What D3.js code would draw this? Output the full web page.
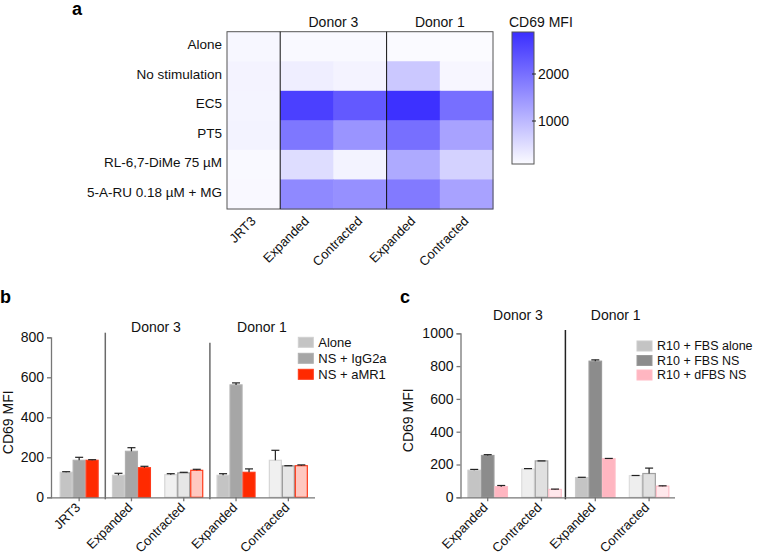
<!DOCTYPE html>
<html><head><meta charset="utf-8">
<script src="https://cdn.jsdelivr.net/npm/d3@7/dist/d3.min.js"></script>
<style>
body{margin:0;background:#fff;}
svg{font-family:Arial,"Liberation Sans",Helvetica,sans-serif;}
</style></head>
<body>
<svg id="fig" width="762" height="559"></svg>
<script>
// ---------- DATA ----------
const heatRows = ["Alone","No stimulation","EC5","PT5","RL-6,7-DiMe 75 \u00b5M","5-A-RU 0.18 \u00b5M + MG"];
const heatCols = ["JRT3","Expanded","Contracted","Expanded","Contracted"];
const heatDonors = ["Donor 3","Donor 1"];
const heatValues = [
  [140, 110, 110, 100, 90],
  [190, 260, 190, 780, 150],
  [180, 2650, 2300, 2850, 2000],
  [200, 1900, 1500, 2000, 1300],
  [110, 500, 200, 1200, 650],
  [120, 1650, 1550, 1850, 1300]
];
const colorbarTicks = [1000, 2000];
const colorbarTitle = "CD69 MFI";

const bGroups = ["JRT3","Expanded","Contracted","Expanded","Contracted"];
const bSeries = ["Alone","NS + IgG2a","NS + aMR1"];
const bMeans = [
  [125, 110, 113, 110, 185],
  [185, 230, 122, 562, 157],
  [185, 148, 135, 125, 158]
];
const bErrTop = [
  [128, 120, 118, 118, 235],
  [200, 248, 125, 572, 158],
  [188, 155, 140, 142, 162]
];
const bTicks = [0, 200, 400, 600, 800];

const cGroups = ["Expanded","Contracted","Expanded","Contracted"];
const cSeries = ["R10 + FBS alone","R10 + FBS NS","R10 + dFBS NS"];
const cMeans = [
  [165, 172, 120, 132],
  [255, 222, 830, 145],
  [65, 48, 235, 68]
];
const cErrTop = [
  [170, 175, 122, 133],
  [260, 222, 838, 178],
  [72, 50, 237, 70]
];
const cTicks = [0, 200, 400, 600, 800, 1000];
const yTitle = "CD69 MFI";

// ---------- DRAW ----------
const svg = d3.select("#fig");
const FONT = 13.5;

// Panel letters
svg.append("text").attr("x", 72).attr("y", 15).attr("font-size", 18).attr("font-weight", "bold").text("a");
svg.append("text").attr("x", 0).attr("y", 303).attr("font-size", 18).attr("font-weight", "bold").text("b");
svg.append("text").attr("x", 400).attr("y", 303).attr("font-size", 18).attr("font-weight", "bold").text("c");

// ===== Panel a: heatmap =====
const hx = d3.scaleBand().domain(d3.range(heatCols.length)).range([227, 493]);
const hy = d3.scaleBand().domain(d3.range(heatRows.length)).range([31.7, 209]);
const cMin = 85, cMax = 2894;
const hColor = d3.scaleLinear().domain([cMin, cMax]).range(["#fbfbff", "#3a2eff"]).clamp(true);

const ga = svg.append("g");
heatValues.forEach((row, r) => {
  row.forEach((v, c) => {
    ga.append("rect").attr("x", hx(c)).attr("y", hy(r))
      .attr("width", hx.bandwidth() + 0.5).attr("height", hy.bandwidth() + 0.5)
      .attr("fill", hColor(v));
  });
});
ga.append("rect").attr("x", 227).attr("y", 31.7).attr("width", 266).attr("height", 177.3)
  .attr("fill", "none").attr("stroke", "#555").attr("stroke-width", 1);
[1, 3].forEach(c => {
  ga.append("line").attr("x1", hx(c)).attr("x2", hx(c)).attr("y1", 31.7).attr("y2", 209)
    .attr("stroke", "#111").attr("stroke-width", 1);
});
heatRows.forEach((t, r) => {
  ga.append("text").attr("x", 222).attr("y", hy(r) + hy.bandwidth() / 2 - 2)
    .attr("dy", "0.35em").attr("text-anchor", "end").attr("font-size", FONT).attr("fill", "#111").text(t);
});
heatCols.forEach((t, c) => {
  const cx = hx(c) + hx.bandwidth() / 2;
  ga.append("text").attr("transform", `translate(${cx + 3},${222}) rotate(-45)`)
    .attr("text-anchor", "end").attr("font-size", 13).attr("fill", "#111").text(t);
});
heatDonors.forEach((t, i) => {
  const cx = hx(1 + 2 * i) + hx.bandwidth();
  ga.append("text").attr("x", cx).attr("y", 27).attr("text-anchor", "middle")
    .attr("font-size", 14).attr("fill", "#111").text(t);
});
// colorbar
const cbX = 512, cbW = 22, cbTop = 32, cbBot = 164;
const cbScale = d3.scaleLinear().domain([cMin, cMax]).range([cbBot, cbTop]);
const defs = svg.append("defs");
const grad = defs.append("linearGradient").attr("id", "cbgrad").attr("x1", 0).attr("y1", 1).attr("x2", 0).attr("y2", 0);
grad.append("stop").attr("offset", "0%").attr("stop-color", hColor(cMin));
grad.append("stop").attr("offset", "100%").attr("stop-color", hColor(cMax));
ga.append("rect").attr("x", cbX).attr("y", cbTop).attr("width", cbW).attr("height", cbBot - cbTop)
  .attr("fill", "url(#cbgrad)").attr("stroke", "#555").attr("stroke-width", 1);
colorbarTicks.forEach(t => {
  ga.append("line").attr("x1", cbX + cbW - 2).attr("x2", cbX + cbW + 2)
    .attr("y1", cbScale(t)).attr("y2", cbScale(t)).attr("stroke", "#222");
  ga.append("text").attr("x", cbX + cbW + 4).attr("y", cbScale(t)).attr("dy", "0.35em")
    .attr("font-size", 14).attr("fill", "#111").text(t);
});
ga.append("text").attr("x", 509).attr("y", 27).attr("font-size", 14).attr("fill", "#111").text(colorbarTitle);

// ===== bar chart helper =====
function barChart(opt) {
  const g = svg.append("g");
  const y = d3.scaleLinear().domain(opt.yDomain).range([opt.y0, opt.y1]);
  const x0 = d3.scaleBand().domain(d3.range(opt.groups.length)).range(opt.xRange)
    .paddingInner(opt.pad).paddingOuter(opt.pad / 2);
  const x1 = d3.scaleBand().domain(d3.range(opt.series.length)).range([0, x0.bandwidth()]);

  // bars
  opt.means.forEach((vals, s) => {
    vals.forEach((v, gi) => {
      const st = opt.style(s, gi);
      const bx = x0(gi) + x1(s);
      g.append("rect").attr("x", bx + 0.5).attr("y", y(v))
        .attr("width", x1.bandwidth() - 1).attr("height", y(0) - y(v))
        .attr("fill", st.fill).attr("stroke", st.stroke).attr("stroke-width", 1.2);
      const et = opt.err[s][gi];
      const cx = bx + x1.bandwidth() / 2;
      if (et > v + 0.5) {
        g.append("line").attr("x1", cx).attr("x2", cx).attr("y1", y(v)).attr("y2", y(et))
          .attr("stroke", "#222").attr("stroke-width", 1.2);
      }
      g.append("line").attr("x1", cx - 4).attr("x2", cx + 4).attr("y1", y(et)).attr("y2", y(et))
        .attr("stroke", "#222").attr("stroke-width", 1.2);
    });
  });

  // separators
  opt.seps.forEach(sp => {
    const sx = x0(sp.after) + x0.bandwidth() + x0.step() * x0.paddingInner() / 2 + (sp.dx || 0);
    g.append("line").attr("x1", sx).attr("x2", sx).attr("y1", sp.top).attr("y2", opt.y0 + 2)
      .attr("stroke", opt.sepColor).attr("stroke-width", 1.5);
  });

  // y axis
  const ya = g.append("g").attr("transform", `translate(${opt.xAxis},0)`)
    .call(d3.axisLeft(y).tickValues(opt.ticks).tickFormat(d3.format("d")).tickSize(4).tickPadding(3));
  ya.select(".domain").attr("stroke", "#777").attr("stroke-width", 1.3);
  ya.selectAll(".tick line").attr("stroke", "#777").attr("stroke-width", 1.3);
  ya.selectAll("text").attr("font-size", 14).attr("fill", "#111").attr("font-family", "Arial, Liberation Sans, sans-serif");

  // x axis
  const xa = g.append("g").attr("transform", `translate(0,${opt.y0})`)
    .call(d3.axisBottom(x0).tickSize(4).tickFormat(""));
  xa.select(".domain").attr("d", `M${opt.xAxis},0.5H${opt.xEnd}`).attr("stroke", "#777").attr("stroke-width", 1.3);
  xa.selectAll(".tick line").attr("stroke", "#777").attr("stroke-width", 1.3);
  opt.groups.forEach((t, gi) => {
    const cx = x0(gi) + x0.bandwidth() / 2;
    g.append("text").attr("transform", `translate(${cx + opt.lblDx},${opt.y0 + opt.lblDy}) rotate(-45)`)
      .attr("text-anchor", "end").attr("font-size", 13).attr("fill", "#111").text(t);
  });

  // y title
  g.append("text").attr("transform", `translate(${opt.titleX},${(opt.y0 + opt.y1) / 2 + 5}) rotate(-90)`)
    .attr("text-anchor", "middle").attr("font-size", 14).attr("fill", "#111").text(yTitle);

  // donor labels
  opt.donors.forEach(d => {
    g.append("text").attr("x", d.x).attr("y", d.y).attr("text-anchor", "middle")
      .attr("font-size", 14).attr("fill", "#111").text(d.t);
  });

  // legend
  opt.series.forEach((t, s) => {
    const st = opt.style(s, -1);
    const ly = opt.legY + s * opt.legStep;
    g.append("rect").attr("x", opt.legX).attr("y", ly).attr("width", 15).attr("height", 10)
      .attr("fill", st.fill).attr("stroke", st.stroke).attr("stroke-width", 1);
    g.append("text").attr("x", opt.legX + 20).attr("y", ly + 5).attr("dy", "0.35em")
      .attr("font-size", opt.legFont).attr("fill", "#111").text(t);
  });
  return {x0, y};
}

// ===== Panel b =====
const bContracted = [false, false, true, false, true];
const bFill = ["#c4c4c4", "#a6a6a6", "#ff2a00"];
const bStroke = ["#d0d0d0", "#b0b0b0", "#ff3a1a"];
const bFillC = ["#f0f0f0", "#e6e6e6", "#ffc8c0"];
const bStrokeC = ["#d6d6d6", "#999999", "#ff3a1a"];
barChart({
  groups: bGroups, series: bSeries, means: bMeans, err: bErrTop,
  yDomain: [0, 800], y0: 497.3, y1: 337.3, ticks: bTicks,
  xRange: [53, 314.5], pad: 0.255, xAxis: 51, xEnd: 315,
  lblDx: 2, lblDy: 11,
  style: (s, gi) => (gi >= 0 && bContracted[gi]) ? {fill: bFillC[s], stroke: bStrokeC[s]} : {fill: bFill[s], stroke: bStroke[s]},
  seps: [{after: 0, top: 332.7}, {after: 2, top: 342.7}], sepColor: "#6a6a6a",
  titleX: 13,
  donors: [{t: "Donor 3", x: 156, y: 332}, {t: "Donor 1", x: 262, y: 332}],
  legX: 298.3, legY: 337.3, legStep: 16, legFont: 13
});

// ===== Panel c =====
const cContracted = [false, true, false, true];
const cFill = ["#c4c4c4", "#8c8c8c", "#ffb6c1"];
const cStroke = ["#cccccc", "#9a9a9a", "#ffbcc6"];
const cFillC = ["#eeeeee", "#e0e0e0", "#ffe8ec"];
const cStrokeC = ["#dddddd", "#a0a0a0", "#ffc0ca"];
barChart({
  groups: cGroups, series: cSeries, means: cMeans, err: cErrTop,
  yDomain: [0, 1000], y0: 497.3, y1: 333.3, ticks: cTicks,
  xRange: [460.8, 676], pad: 0.247, xAxis: 460.5, xEnd: 675,
  lblDx: 1, lblDy: 11,
  style: (s, gi) => (gi >= 0 && cContracted[gi]) ? {fill: cFillC[s], stroke: cStrokeC[s]} : {fill: cFill[s], stroke: cStroke[s]},
  seps: [{after: 1, top: 330, dx: -3}], sepColor: "#222",
  titleX: 413,
  donors: [{t: "Donor 3", x: 518, y: 320}, {t: "Donor 1", x: 615.7, y: 320}],
  legX: 637, legY: 341, legStep: 14.5, legFont: 12.5
});
</script>
</body></html>
